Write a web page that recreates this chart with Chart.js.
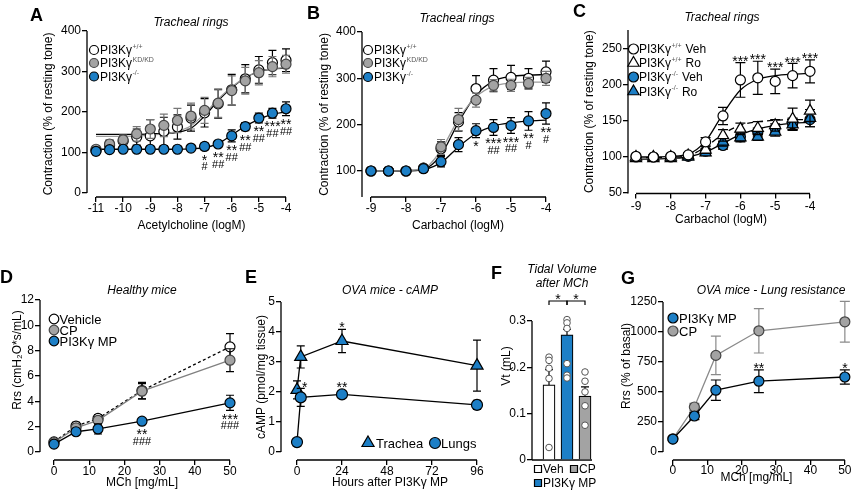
<!DOCTYPE html>
<html>
<head>
<meta charset="utf-8">
<script src="https://cdn.jsdelivr.net/npm/chart.js"></script>
<style>
  body { margin: 0; background: #fff; overflow: hidden; }
  #fig { position: relative; width: 856px; height: 493px; }
  #fig canvas { position: absolute; left: 0; top: 0; }
</style>
</head>
<body>
<div id="fig">
  <canvas id="chA" width="856" height="493"></canvas>
  <canvas id="chB" width="856" height="493"></canvas>
  <canvas id="chC" width="856" height="493"></canvas>
  <canvas id="chD" width="856" height="493"></canvas>
  <canvas id="chE" width="856" height="493"></canvas>
  <canvas id="chF" width="856" height="493"></canvas>
  <canvas id="chG" width="856" height="493"></canvas>
</div>
<script>
// ---- data ----
// A: acetylcholine, tracheal rings
const aX = [-11, -10.5, -10, -9.5, -9, -8.5, -8, -7.5, -7, -6.5, -6, -5.5, -5, -4.5, -4];
const aWT = [105, 118, 128, 138, 141, 152, 163, 185, 198, 220, 255, 282, 304, 322, 328];
const aWTErr = [10, 12, 15, 20, 40, 35, 30, 32, 35, 35, 38, 35, 33, 30, 28];
const aKD = [108, 121, 131, 146, 158, 167, 179, 190, 204, 222, 253, 277, 297, 312, 318];
const aKDErr = [8, 10, 12, 18, 23, 28, 30, 32, 32, 35, 36, 33, 30, 25, 22];
const aKO = [103, 107, 108, 108, 108, 108, 108, 111, 115, 121, 141, 164, 185, 197, 208];
const aKOErr = [5, 5, 5, 5, 5, 5, 5, 5, 8, 8, 15, 10, 12, 12, 17];
const aFitWT = [145, 145, 145, 145, 146, 147, 150, 160, 190, 228, 260, 284, 300, 306, 308];
const aFitKD = [140, 140, 140, 141, 143, 146, 152, 166, 196, 232, 262, 285, 300, 307, 310];
const aFitKO = [108, 108, 108, 108, 108, 108, 108, 109, 112, 122, 143, 165, 182, 194, 200];
const aSigX = [-7, -6.5, -6, -5.5, -5, -4.5, -4];
const aSigStar = ['*', '**', '**', '**', '**', '***', '**'];
const aSigHash = ['#', '##', '##', '##', '##', '##', '##'];
const aTicksX = [-11, -10, -9, -8, -7, -6, -5, -4];
const aTicksY = [0, 100, 200, 300, 400];

// B: carbachol, tracheal rings
const bX = [-9, -8.5, -8, -7.5, -7, -6.5, -6, -5.5, -5, -4.5, -4];
const bWT = [100, 100, 100, 106, 148, 206, 278, 296, 302, 300, 314];
const bWTErr = [3, 3, 3, 4, 15, 20, 28, 25, 26, 21, 23];
const bKD = [100, 100, 100, 106, 152, 211, 253, 285, 285, 289, 300];
const bKDErr = [3, 3, 3, 4, 16, 24, 15, 12, 13, 13, 15];
const bKO = [100, 100, 100, 105, 120, 157, 187, 194, 198, 208, 224];
const bKOErr = [3, 3, 3, 4, 11, 15, 15, 17, 17, 20, 23];
const bFitWT = [100, 100, 101, 104, 135, 205, 264, 294, 304, 307, 308];
const bFitKD = [100, 100, 101, 105, 145, 212, 260, 283, 290, 292, 292];
const bFitKO = [100, 100, 100, 103, 118, 152, 181, 197, 204, 208, 210];
const bSigX = [-6, -5.5, -5, -4.5, -4];
const bSigStar = ['*', '***', '***', '**', '**'];
const bSigHash = ['', '##', '##', '#', '#'];
const bTicksX = [-9, -8, -7, -6, -5, -4];
const bTicksY = [100, 200, 300, 400];

// C: carbachol, vehicle vs Ro
const cX = [-9, -8.5, -8, -7.5, -7, -6.5, -6, -5.5, -5, -4.5, -4];
const cWTVeh = [101, 100, 101, 103, 121, 157, 207, 210, 205, 213, 219];
const cWTVehErr = [2, 2, 2, 3, 6, 12, 24, 23, 17, 17, 16];
const cWTRo = [100, 100, 100, 102, 110, 130, 139, 140, 144, 153, 164];
const cWTRoErr = [2, 2, 2, 3, 5, 8, 8, 9, 8, 15, 15];
const cKOVeh = [100, 100, 100, 101, 108, 116, 128, 134, 140, 146, 152];
const cKOVehErr = [2, 2, 2, 3, 4, 5, 6, 6, 6, 8, 10];
const cKORo = [98, 98, 98, 100, 106, 121, 127, 128, 135, 145, 154];
const cKORoErr = [2, 2, 2, 3, 4, 6, 6, 5, 6, 8, 12];
const cFitWT = [100, 100, 101, 104, 122, 160, 193, 208, 213, 215, 216];
const cFitRo = [99, 99, 100, 102, 114, 132, 144, 149, 151, 152, 152];
const cFitKO = [97, 97, 98, 100, 107, 119, 131, 139, 144, 147, 148];
const cSigX = [-6, -5.5, -5, -4.5, -4];
const cTicksY = [50, 100, 150, 200, 250];

// D: healthy mice, Rrs
const mch = [0, 6.25, 12.5, 25, 50];
const dVeh = [0.8, 2.05, 2.65, 4.85, 8.3];
const dVehErr = [0.2, 0.3, 0.3, 0.65, 1.05];
const dCP = [0.75, 1.9, 2.5, 4.8, 7.25];
const dCPErr = [0.15, 0.25, 0.3, 0.6, 0.9];
const dMP = [0.62, 1.6, 1.82, 2.43, 3.88];
const dMPErr = [0.1, 0.2, 0.4, 0.15, 0.6];
const dSigX = [25, 50];
const dSigStar = ['**', '***'];
const dSigHash = ['###', '###'];
const mchTicks = [0, 10, 20, 30, 40, 50];
const dTicksY = [0, 2, 4, 6, 8, 10, 12];

// E: OVA mice, cAMP
const hours = [0, 2, 24, 96];
const eTrachea = [2.07, 3.17, 3.7, 2.88];
const eTracheaErr = [0.3, 0.37, 0.39, 0.85];
const eLungs = [0.33, 1.82, 1.92, 1.57];
const eLungsErr = [0.05, 0.3, 0.07, 0.15];
const hourTicks = [0, 24, 48, 72, 96];
const eTicksY = [0, 1, 2, 3, 4, 5];

// F: tidal volume after MCh
const fGroups = ['Veh', 'PI3Kγ MP', 'CP'];
const fMean = [0.162, 0.27, 0.138];
const fErr = [0.033, 0.012, 0.02];
const fVehDots = [0.222, 0.215, 0.198, 0.176, 0.027];
const fMPDots = [0.303, 0.296, 0.284, 0.208, 0.183, 0.177];
const fCPDots = [0.19, 0.17, 0.147, 0.117, 0.075];
const fTicksY = [0, 0.1, 0.2, 0.3];

// G: OVA mice, lung resistance
const gMP = [108, 300, 515, 590, 625];
const gMPErr = [15, 30, 85, 95, 60];
const gCP = [110, 375, 805, 1010, 1085];
const gCPErr = [15, 30, 160, 185, 170];
const gTicksY = [0, 250, 500, 750, 1000, 1250];

// ---- styling ----
const FONT = '"Liberation Sans", Arial, "DejaVu Sans", sans-serif';
const BLUE = '#1d7fc6';
const GREY = '#a3a3a3';
Chart.defaults.font.family = FONT;
Chart.defaults.font.size = 12;
Chart.defaults.color = '#000';

function pts(xs, ys) { return xs.map((x, i) => ({ x: x, y: ys[i] })); }

function markers(label, xs, ys, err, o) {
  return Object.assign({
    label: label, data: pts(xs, ys), err: err, showLine: false, clip: false,
    pointRadius: 5, pointHoverRadius: 5, pointBorderWidth: 1.2,
    pointBackgroundColor: '#fff', pointBorderColor: '#000',
    borderColor: '#000', borderWidth: 1.3, backgroundColor: '#fff'
  }, o);
}

function fit(xs, ys, color, dash) {
  return {
    data: pts(xs, ys), showLine: true, pointRadius: 0, pointHoverRadius: 0, clip: false,
    borderColor: color, borderWidth: 1.3, borderDash: dash || [],
    cubicInterpolationMode: 'monotone', order: 10
  };
}

function shape(ctx, style, r, x, y) {
  ctx.beginPath();
  if (style === 'triangle') {
    for (let k = 0; k < 3; k++) {
      const a = k * 2 * Math.PI / 3;
      ctx[k ? 'lineTo' : 'moveTo'](x + Math.sin(a) * r, y - Math.cos(a) * r);
    }
    ctx.closePath();
  } else if (style === 'rect') {
    ctx.rect(x - r, y - r, 2 * r, 2 * r);
  } else {
    ctx.arc(x, y, r, 0, 2 * Math.PI);
  }
  ctx.fill();
  ctx.stroke();
}

// text runs; an inner array is a superscript
function drawRuns(ctx, x, y, runs, size) {
  ctx.textAlign = 'left';
  ctx.textBaseline = 'alphabetic';
  const base = y + size * 0.36;
  runs.forEach(r => {
    if (Array.isArray(r)) {
      ctx.font = '7px ' + FONT;
      ctx.fillStyle = '#555';
      ctx.fillText(r[0], x + 0.5, base - size * 0.45);
      x += ctx.measureText(r[0]).width + 1;
    } else {
      ctx.font = size + 'px ' + FONT;
      ctx.fillStyle = '#000';
      ctx.fillText(r, x, base);
      x += ctx.measureText(r).width;
    }
  });
}

function drawMark(ctx, s, x, cy) {
  const star = s[0] === '*';
  const size = star ? 14 : 11;
  ctx.save();
  ctx.font = size + 'px ' + FONT;
  ctx.fillStyle = '#000';
  ctx.textAlign = 'center';
  ctx.textBaseline = 'alphabetic';
  ctx.fillText(s, x, cy + (star ? 0.58 : 0.36) * size);
  ctx.restore();
}

const errorBars = {
  id: 'errorBars',
  beforeDatasetDraw(chart, args) {
    const ds = chart.data.datasets[args.index];
    if (!ds.err) return;
    const ctx = chart.ctx, ys = chart.scales.y;
    ctx.save();
    ctx.strokeStyle = ds.errColor || '#000';
    ctx.lineWidth = 1.2;
    args.meta.data.forEach((el, i) => {
      const e = ds.err[i];
      if (!e) return;
      const v = ds.data[i].y, w = ds.cap || 4;
      const yt = ys.getPixelForValue(v + e);
      const yb = ds.errUp ? el.y : ys.getPixelForValue(v - e);
      ctx.beginPath();
      ctx.moveTo(el.x, yt); ctx.lineTo(el.x, yb);
      ctx.moveTo(el.x - w, yt); ctx.lineTo(el.x + w, yt);
      if (!ds.errUp) { ctx.moveTo(el.x - w, yb); ctx.lineTo(el.x + w, yb); }
      ctx.stroke();
    });
    ctx.restore();
  }
};

// prism style detached axis lines
const axisLines = {
  id: 'axisLines',
  beforeDatasetsDraw(chart, args, o) {
    const { ctx, chartArea: a, scales } = chart;
    const xr = o.x || [null, null], yr = o.y || [null, null];
    ctx.save();
    ctx.strokeStyle = '#000';
    ctx.lineWidth = 1.3;
    ctx.beginPath();
    ctx.moveTo(xr[0] == null ? a.left : scales.x.getPixelForValue(xr[0]), a.bottom);
    ctx.lineTo(xr[1] == null ? a.right : scales.x.getPixelForValue(xr[1]), a.bottom);
    ctx.moveTo(a.left, yr[0] == null ? a.bottom : scales.y.getPixelForValue(yr[0]));
    ctx.lineTo(a.left, yr[1] == null ? a.top : scales.y.getPixelForValue(yr[1]));
    ctx.stroke();
    ctx.restore();
  }
};

const sigMarks = {
  id: 'sigMarks',
  afterDatasetsDraw(chart, args, o) {
    const ctx = chart.ctx, ys = chart.scales.y, xs = chart.scales.x;
    (o.items || []).forEach(it => {
      const di = chart.data.datasets.findIndex(d => d.label === it.ds);
      const ds = chart.data.datasets[di];
      const i = ds.data.findIndex(p => p.x === it.x);
      const el = chart.getDatasetMeta(di).data[i];
      const e = ds.err ? ds.err[i] : 0, r = ds.pointRadius || 0;
      const x = el.x + (it.dx || 0);
      let y;
      if (it.below) y = Math.max(ys.getPixelForValue(ds.data[i].y - e), el.y + r) + 5;
      else y = Math.min(ys.getPixelForValue(ds.data[i].y + e), el.y - r) - 5;
      it.lines.filter(Boolean).forEach((s, k) => drawMark(ctx, s, x, y + (it.below ? k * 10 : -k * 10)));
    });
    if (o.brackets) {
      const bk = o.brackets;
      ctx.save();
      ctx.strokeStyle = '#000';
      ctx.lineWidth = 1.2;
      bk.pairs.forEach(p => {
        const x1 = xs.getPixelForValue(p[0]), x2 = xs.getPixelForValue(p[1]);
        ctx.beginPath();
        ctx.moveTo(x1, bk.y + 4); ctx.lineTo(x1, bk.y); ctx.lineTo(x2, bk.y); ctx.lineTo(x2, bk.y + 4);
        ctx.stroke();
        drawMark(ctx, p[2], (x1 + x2) / 2, bk.y - 5);
      });
      ctx.restore();
    }
  }
};

const figText = {
  id: 'figText',
  afterDraw(chart, args, o) {
    const ctx = chart.ctx;
    (o.texts || []).forEach(t => {
      ctx.save();
      ctx.font = t.font;
      ctx.fillStyle = '#000';
      ctx.textAlign = t.align || 'center';
      ctx.textBaseline = t.base || 'middle';
      ctx.fillText(t.text, t.x, t.y);
      ctx.restore();
    });
    (o.legend || []).forEach(l => {
      ctx.save();
      ctx.fillStyle = l.fill;
      ctx.strokeStyle = l.stroke || '#000';
      ctx.lineWidth = 1.2;
      shape(ctx, l.style || 'circle', l.r, l.x, l.y);
      drawRuns(ctx, l.tx, l.y, l.label, l.size || 12);
      ctx.restore();
    });
  }
};

Chart.register(errorBars, axisLines, sigMarks, figText);

const LETTER = 'bold 18px ' + FONT;
const ITALIC = 'italic 12px ' + FONT;

function valueAt(m, p) { return m[0] + (p - m[1]) * (m[2] - m[0]) / (m[3] - m[1]); }

function panel(id, c) {
  const b = c.box;
  const padL = b.ytx - 7.2;
  const xBottom = c.xTitle ? b.xty + 7.2 : b.b;
  const yw = b.l - padL, xh = xBottom - b.b;
  const setTicks = vals => s => { s.ticks = vals.map(v => ({ value: v })); };
  const grid = { drawOnChartArea: false, tickLength: 5, color: '#000', lineWidth: 1.3 };
  return new Chart(document.getElementById(id), {
    type: c.type || 'scatter',
    data: { datasets: c.datasets },
    options: {
      responsive: false,
      animation: false,
      events: [],
      layout: { padding: { left: padL, top: b.t, right: 856 - b.r, bottom: 493 - xBottom } },
      plugins: {
        legend: { display: false },
        tooltip: { enabled: false },
        axisLines: { x: c.xLine, y: c.yLine },
        sigMarks: { items: c.sig || [], brackets: c.brackets },
        figText: { texts: c.texts, legend: c.legend }
      },
      scales: {
        x: {
          type: 'linear',
          min: valueAt(c.xmap, b.l),
          max: valueAt(c.xmap, b.r),
          display: !!c.xTitle,
          afterBuildTicks: setTicks(c.xTicks || []),
          afterFit: s => { s.height = xh; },
          ticks: { autoSkip: false, maxRotation: 0, padding: c.xPad || 0, callback: v => String(v) },
          grid: grid,
          border: { display: false },
          title: { display: !!c.xTitle, text: c.xTitle, padding: 0 }
        },
        y: {
          type: 'linear',
          min: valueAt(c.ymap, b.b),
          max: valueAt(c.ymap, b.t),
          afterBuildTicks: setTicks(c.yTicks),
          afterFit: s => { s.width = yw; },
          ticks: { autoSkip: false, padding: 1, callback: v => String(v) },
          grid: grid,
          border: { display: false },
          title: { display: true, text: c.yTitle, padding: 0 }
        }
      }
    }
  });
}

function sigBelow(ds, xs, stars, hashes) {
  return xs.map((x, i) => ({ ds: ds, x: x, below: true, lines: [stars[i], hashes[i]] }));
}

function sigAbove(ds, xs, stars) {
  return xs.map((x, i) => ({ ds: ds, x: x, below: false, lines: [stars[i]] }));
}

// A
panel('chA', {
  box: { l: 87, t: 31, r: 296, b: 197, ytx: 49, xty: 226 }, xPad: -1,
  xmap: [-11, 96, -4, 286], ymap: [0, 193, 400, 31],
  xTicks: aTicksX, yTicks: aTicksY, xLine: [-11, -4], yLine: [0, 400],
  xTitle: 'Acetylcholine (logM)', yTitle: 'Contraction (% of resting tone)',
  datasets: [
    fit(aX, aFitKD, '#9a9a9a'),
    fit(aX, aFitWT, '#000'),
    fit(aX, aFitKO, '#000'),
    markers('KO', aX, aKO, aKOErr, { pointBackgroundColor: BLUE, order: 1 }),
    markers('KD', aX, aKD, aKDErr, { pointBackgroundColor: GREY, pointBorderColor: '#444', errColor: '#777', order: 2 }),
    markers('WT', aX, aWT, aWTErr, { order: 3 })
  ],
  sig: sigBelow('KO', aSigX, aSigStar, aSigHash),
  texts: [
    { text: 'A', x: 30, y: 21, font: LETTER, align: 'left', base: 'alphabetic' },
    { text: 'Tracheal rings', x: 191, y: 22.5, font: ITALIC }
  ],
  legend: [
    { x: 94, y: 50, r: 4.5, fill: '#fff', tx: 100, label: ['PI3Kγ', ['+/+']] },
    { x: 94, y: 63, r: 4.5, fill: GREY, stroke: '#444', tx: 100, label: ['PI3Kγ', ['KD/KD']] },
    { x: 94, y: 76.5, r: 4.5, fill: BLUE, tx: 100, label: ['PI3Kγ', ['-/-']] }
  ]
});

// B
panel('chB', {
  box: { l: 362, t: 32, r: 554, b: 197, ytx: 325, xty: 226 }, xPad: -1,
  xmap: [-9, 371, -4, 546], ymap: [100, 171, 400, 32],
  xTicks: bTicksX, yTicks: bTicksY, xLine: [-9, -4], yLine: [null, 400],
  xTitle: 'Carbachol (logM)', yTitle: 'Contraction (% of resting tone)',
  datasets: [
    fit(bX, bFitKD, '#9a9a9a'),
    fit(bX, bFitWT, '#000'),
    fit(bX, bFitKO, '#000'),
    markers('KO', bX, bKO, bKOErr, { pointBackgroundColor: BLUE, order: 1 }),
    markers('KD', bX, bKD, bKDErr, { pointBackgroundColor: GREY, pointBorderColor: '#444', errColor: '#777', order: 2 }),
    markers('WT', bX, bWT, bWTErr, { order: 3 })
  ],
  sig: sigBelow('KO', bSigX, bSigStar, bSigHash),
  texts: [
    { text: 'B', x: 307, y: 19, font: LETTER, align: 'left', base: 'alphabetic' },
    { text: 'Tracheal rings', x: 457, y: 18.5, font: ITALIC }
  ],
  legend: [
    { x: 368, y: 50, r: 4.5, fill: '#fff', tx: 374, label: ['PI3Kγ', ['+/+']] },
    { x: 368, y: 63, r: 4.5, fill: GREY, stroke: '#444', tx: 374, label: ['PI3Kγ', ['KD/KD']] },
    { x: 368, y: 77, r: 4.5, fill: BLUE, tx: 374, label: ['PI3Kγ', ['-/-']] }
  ]
});

// C
panel('chC', {
  box: { l: 628, t: 30, r: 814, b: 193.5, ytx: 590, xty: 220 }, xPad: 1,
  xmap: [-9, 636, -4, 810], ymap: [50, 193, 250, 49],
  xTicks: bTicksX, yTicks: cTicksY, xLine: [-9, -4], yLine: [null, null],
  xTitle: 'Carbachol (logM)', yTitle: 'Contraction (% of resting tone)',
  datasets: [
    fit(cX, cFitWT, '#000'),
    fit(cX, cFitRo, '#000', [6, 4]),
    fit(cX, cFitKO, '#000'),
    markers('WTVeh', cX, cWTVeh, cWTVehErr, { order: 1, cap: 5 }),
    markers('WTRo', cX, cWTRo, cWTRoErr, { pointStyle: 'triangle', pointRadius: 6.5, order: 2, cap: 5 }),
    markers('KORo', cX, cKORo, cKORoErr, { pointStyle: 'triangle', pointRadius: 6.5, pointBackgroundColor: BLUE, order: 3, cap: 5 }),
    markers('KOVeh', cX, cKOVeh, cKOVehErr, { pointBackgroundColor: BLUE, order: 4, cap: 5 })
  ],
  sig: sigAbove('WTVeh', cSigX, ['***', '***', '***', '***', '***']),
  texts: [
    { text: 'C', x: 573, y: 17, font: LETTER, align: 'left', base: 'alphabetic' },
    { text: 'Tracheal rings', x: 722, y: 18, font: ITALIC }
  ],
  legend: [
    { x: 633.5, y: 49, r: 5, fill: '#fff', tx: 639, label: ['PI3Kγ', ['+/+'], ' Veh'] },
    { x: 633.5, y: 63, r: 6.5, style: 'triangle', fill: '#fff', tx: 639, label: ['PI3Kγ', ['+/+'], ' Ro'] },
    { x: 633.5, y: 77, r: 5, fill: BLUE, tx: 639, label: ['PI3Kγ', ['-/-'], ' Veh'] },
    { x: 633.5, y: 91.5, r: 6.5, style: 'triangle', fill: BLUE, tx: 639, label: ['PI3Kγ', ['-/-'], ' Ro'] }
  ]
});

// D
panel('chD', {
  box: { l: 40, t: 260, r: 244, b: 460, ytx: 18, xty: 483 }, xPad: -1,
  xmap: [0, 54, 50, 230], ymap: [0, 452, 12, 300],
  xTicks: mchTicks, yTicks: dTicksY, xLine: [0, 50], yLine: [0, 12],
  xTitle: 'MCh [mg/mL]', yTitle: 'Rrs (cmH₂O*s/mL)',
  datasets: [
    markers('MP', mch, dMP, dMPErr, { showLine: true, pointBackgroundColor: BLUE, order: 1 }),
    markers('CP', mch, dCP, dCPErr, { showLine: true, borderColor: '#808080', pointBackgroundColor: GREY, pointBorderColor: '#444', order: 2 }),
    markers('Veh', mch, dVeh, dVehErr, { showLine: true, borderDash: [3, 2.5], order: 3 })
  ],
  sig: sigBelow('MP', dSigX, dSigStar, dSigHash),
  texts: [
    { text: 'D', x: 0, y: 283, font: LETTER, align: 'left', base: 'alphabetic' },
    { text: 'Healthy mice', x: 142, y: 291, font: ITALIC }
  ],
  legend: [
    { x: 54, y: 319, r: 4.8, fill: '#fff', tx: 59.5, size: 13, label: ['Vehicle'] },
    { x: 54, y: 330, r: 4.8, fill: GREY, stroke: '#444', tx: 59.5, size: 13, label: ['CP'] },
    { x: 54, y: 341, r: 4.8, fill: BLUE, tx: 59.5, size: 13, label: ['PI3Kγ MP'] }
  ]
});

// E
panel('chE', {
  box: { l: 281, t: 294, r: 499, b: 460, ytx: 262, xty: 483 }, xPad: -1,
  xmap: [0, 297, 96, 477], ymap: [0, 452, 5, 302],
  xTicks: hourTicks, yTicks: eTicksY, xLine: [0, 96], yLine: [0, 5],
  xTitle: 'Hours after PI3Kγ MP', yTitle: 'cAMP (pmol/mg tissue)',
  datasets: [
    markers('Trachea', hours, eTrachea, eTracheaErr, { showLine: true, pointStyle: 'triangle', pointRadius: 7, pointBackgroundColor: BLUE, order: 2 }),
    markers('Lungs', hours, eLungs, eLungsErr, { showLine: true, pointRadius: 5.5, pointBackgroundColor: BLUE, order: 1 })
  ],
  sig: [
    { ds: 'Lungs', x: 2, dx: 4, below: false, lines: ['*'] },
    { ds: 'Lungs', x: 24, below: false, lines: ['**'] },
    { ds: 'Trachea', x: 24, below: false, lines: ['*'] }
  ],
  texts: [
    { text: 'E', x: 245, y: 283, font: LETTER, align: 'left', base: 'alphabetic' },
    { text: 'OVA mice - cAMP', x: 390, y: 291, font: ITALIC }
  ],
  legend: [
    { x: 368, y: 443, r: 7, style: 'triangle', fill: BLUE, tx: 376, size: 13, label: ['Trachea'] },
    { x: 435, y: 443, r: 5.5, fill: BLUE, tx: 441, size: 13, label: ['Lungs'] }
  ]
});

// F
const fDots = pts(fVehDots.map(() => 0), fVehDots)
  .concat(pts(fMPDots.map(() => 1), fMPDots))
  .concat(pts(fCPDots.map(() => 2), fCPDots));
panel('chF', {
  type: 'bar',
  box: { l: 532, t: 272, r: 592, b: 460, ytx: 507 },
  xmap: [0, 549, 2, 585], ymap: [0, 460, 0.3, 321],
  yTicks: fTicksY, xLine: [null, null], yLine: [0, 0.3],
  yTitle: 'Vt (mL)',
  datasets: [
    {
      type: 'scatter', label: 'dots', data: fDots, showLine: false, clip: false, order: 1,
      pointRadius: 3.3, pointBorderWidth: 1, pointBackgroundColor: '#fff', pointBorderColor: '#555'
    },
    {
      type: 'bar', label: 'mean', data: pts([0, 1, 2], fMean), err: fErr, errUp: true, cap: 4,
      backgroundColor: ['#fff', BLUE, GREY], borderColor: '#000', borderWidth: 1.2,
      barThickness: 12, order: 2
    }
  ],
  brackets: { y: 301, pairs: [[0, 1, '*'], [1, 2, '*']] },
  texts: [
    { text: 'F', x: 491, y: 279, font: LETTER, align: 'left', base: 'alphabetic' },
    { text: 'Tidal Volume', x: 562, y: 270, font: ITALIC },
    { text: 'after MCh', x: 562, y: 284, font: ITALIC }
  ],
  legend: [
    { x: 538, y: 469, r: 3.5, style: 'rect', fill: '#fff', tx: 543, label: [fGroups[0]] },
    { x: 574, y: 469, r: 3.5, style: 'rect', fill: GREY, tx: 579, label: [fGroups[2]] },
    { x: 538, y: 483, r: 3.5, style: 'rect', fill: BLUE, tx: 543, label: [fGroups[1]] }
  ]
});

// G
panel('chG', {
  box: { l: 663, t: 272, r: 852, b: 460, ytx: 627, xty: 478 }, xPad: -2,
  xmap: [0, 673, 50, 847], ymap: [0, 452, 1250, 302],
  xTicks: mchTicks, yTicks: gTicksY, xLine: [0, 50], yLine: [0, 1250],
  xTitle: 'MCh [mg/mL]', yTitle: 'Rrs (% of basal)',
  datasets: [
    markers('MP', mch, gMP, gMPErr, { showLine: true, pointBackgroundColor: BLUE, order: 1, cap: 5 }),
    markers('CP', mch, gCP, gCPErr, { showLine: true, borderColor: '#8a8a8a', pointBackgroundColor: GREY, pointBorderColor: '#444', errColor: '#8a8a8a', order: 2, cap: 5 })
  ],
  sig: sigAbove('MP', [25, 50], ['**', '*']),
  texts: [
    { text: 'G', x: 621, y: 284, font: LETTER, align: 'left', base: 'alphabetic' },
    { text: 'OVA mice - Lung resistance', x: 771, y: 291, font: ITALIC }
  ],
  legend: [
    { x: 673, y: 318, r: 5, fill: BLUE, tx: 679, size: 13, label: ['PI3Kγ MP'] },
    { x: 673, y: 331, r: 5, fill: GREY, stroke: '#444', tx: 679, size: 13, label: ['CP'] }
  ]
});
</script>
</body>
</html>
